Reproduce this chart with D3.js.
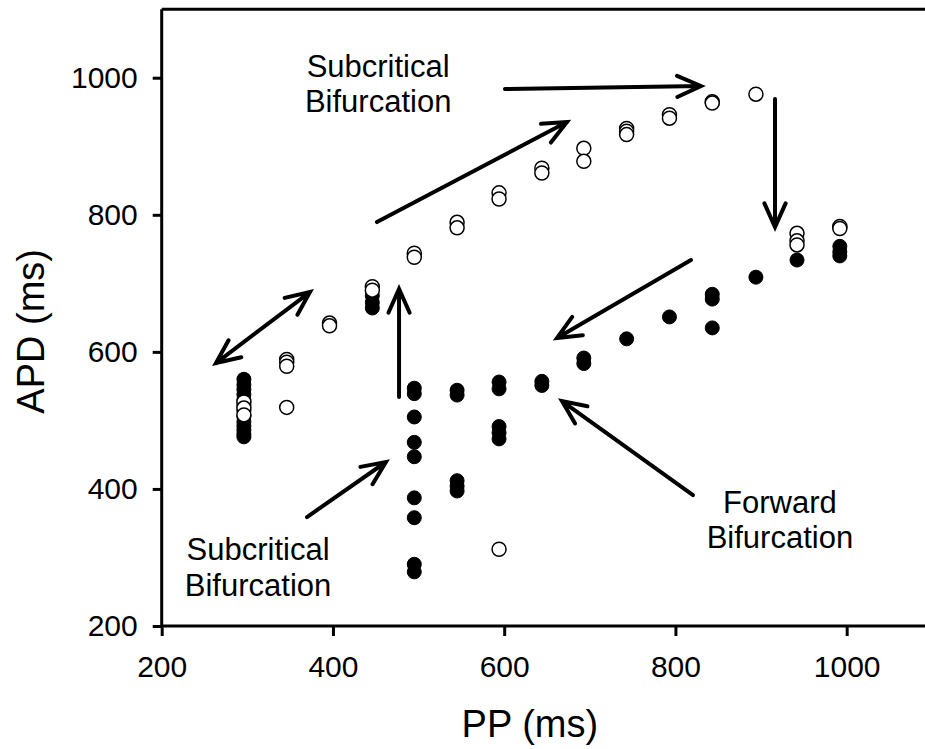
<!DOCTYPE html>
<html>
<head>
<meta charset="utf-8">
<script src="https://cdn.jsdelivr.net/npm/d3@7"></script>
<style>
  html, body { margin: 0; padding: 0; background: #fff; }
  svg { display: block; font-family: "Liberation Sans", Arial, sans-serif; }
</style>
</head>
<body>
<svg id="chart" width="925" height="749"></svg>
<script>
// ---------- data ----------
const xTicks = [200, 400, 600, 800, 1000];
const yTicks = [200, 400, 600, 800, 1000];

// filled circles: [PP, APD]
const filledPP  = [296,296,296,296,296,296,296,296,296,296,296,296,296,
                   446,446,446,
                   495,495,495,495,495,495,495,495,495,
                   545,545,545,545,545,
                   594,594,594,594,594,
                   644,644,
                   693,693,
                   743,
                   793,
                   843,843,843,
                   894,
                   942,
                   992,992,992];
const filledAPD = [560,552,545,538,530,522,514,506,498,492,486,480,476,
                   682,672,664,
                   547,539,505,468,447,387,358,290,279,
                   544,537,412,404,397,
                   556,546,491,482,473,
                   557,551,
                   591,583,
                   619,
                   651,
                   684,677,635,
                   709,
                   734,
                   754,746,740];

// open circles
const openPP  = [296,296,296,
                 346,346,346,346,
                 396,396,
                 446,446,
                 495,495,
                 545,545,
                 594,594,594,
                 644,644,
                 693,693,
                 743,743,743,
                 793,793,
                 843,843,
                 894,
                 942,942,942,
                 992,992];
const openAPD = [527,518,508,
                 589,585,579,519,
                 642,638,
                 695,690,
                 744,738,
                 789,781,
                 832,823,312,
                 868,861,
                 897,878,
                 926,922,917,
                 946,941,
                 965,963,
                 976,
                 773,762,756,
                 783,780];

// annotation arrows in data units: [x1, y1] -> [x2, y2] (tip at x2,y2)
const arrowFrom = [[263.4,583.7],[477.2,534.1],[369.7,359.0],[451.4,789.4],[600.9,983.5],[916.3,968.9],[818.2,734.0],[820.5,391.1]];
const arrowTo   = [[373.2,687.3],[477.2,691.7],[461.9,439.3],[673.3,935.3],[829.8,987.9],[916.3,782.1],[661.7,620.2],[667.5,528.3]];
const doubleHeaded = [true,false,false,false,false,false,false,false];

const labelLines = [["Subcritical","Bifurcation"],["Subcritical","Bifurcation"],["Forward","Bifurcation"]];
const labelX = [452.8, 312.5, 922];
const labelY = [1001, 296.3, 364.9];
const labelY2 = [950, 243.8, 313.8];

// ---------- drawing ----------
const svg = d3.select("#chart");
const x = d3.scaleLinear().domain([200, 1100]).range([161.7, 932.3]);
const y = d3.scaleLinear().domain([200, 1100]).range([626, 9.2]);

// frame (top & right)
svg.append("path")
  .attr("d", `M${x(200)},${y(1100)}H${x(1100)}V${y(200)}`)
  .attr("fill", "none").attr("stroke", "#000").attr("stroke-width", 3);

const tickFont = "30px";
const fmt = d3.format("d");

const gx = svg.append("g").attr("transform", `translate(0,${y(200)})`)
  .call(d3.axisBottom(x).tickValues(xTicks).tickFormat(fmt).tickSize(10).tickPadding(20).tickSizeOuter(0));
const gy = svg.append("g").attr("transform", `translate(${x(200)},0)`)
  .call(d3.axisLeft(y).tickValues(yTicks).tickFormat(fmt).tickSize(9).tickPadding(15).tickSizeOuter(0));
[gx, gy].forEach(g => {
  g.select(".domain").attr("stroke-width", 3).attr("stroke", "#000");
  g.selectAll(".tick line").attr("stroke-width", 3).attr("stroke", "#000");
  g.selectAll(".tick text").attr("font-size", tickFont).attr("fill", "#000")
    .attr("font-family", "'Liberation Sans', Arial, sans-serif");
});
gx.select(".domain").attr("d", `M${x(200)},0H${x(1100)}`);
gy.select(".domain").attr("d", `M0,${y(1100)}V${y(200)}`);

// axis titles
svg.append("text").attr("x", x(630)).attr("y", 737)
  .attr("text-anchor", "middle").attr("font-size", "38px").text("PP (ms)");
svg.append("text").attr("transform", `translate(44,${y(630)}) rotate(-90)`)
  .attr("text-anchor", "middle").attr("font-size", "38px").text("APD (ms)");

// points
const r = 7;
svg.append("g").selectAll("circle").data(d3.range(filledPP.length)).join("circle")
  .attr("cx", i => x(filledPP[i])).attr("cy", i => y(filledAPD[i])).attr("r", r)
  .attr("fill", "#000").attr("stroke", "#000").attr("stroke-width", 1);
svg.append("g").selectAll("circle").data(d3.range(openPP.length)).join("circle")
  .attr("cx", i => x(openPP[i])).attr("cy", i => y(openAPD[i])).attr("r", r)
  .attr("fill", "#fff").attr("stroke", "#000").attr("stroke-width", 1.5);

// arrows
function head(px, py, fx, fy) {
  const ang = Math.atan2(py - fy, px - fx);
  const L = 26, a = 0.42;
  const p1 = [px - L * Math.cos(ang - a), py - L * Math.sin(ang - a)];
  const p2 = [px - L * Math.cos(ang + a), py - L * Math.sin(ang + a)];
  return `M${p1[0]},${p1[1]}L${px},${py}L${p2[0]},${p2[1]}`;
}
const ga = svg.append("g").attr("fill", "none").attr("stroke", "#000")
  .attr("stroke-width", 4).attr("stroke-linecap", "round").attr("stroke-linejoin", "miter");
arrowFrom.forEach((f, i) => {
  const x1 = x(f[0]), y1 = y(f[1]), x2 = x(arrowTo[i][0]), y2 = y(arrowTo[i][1]);
  let d = `M${x1},${y1}L${x2},${y2}` + head(x2, y2, x1, y1);
  if (doubleHeaded[i]) d += head(x1, y1, x2, y2);
  ga.append("path").attr("d", d);
});

// labels
labelLines.forEach((lines, i) => {
  const t = svg.append("text").attr("text-anchor", "middle").attr("font-size", "31px").attr("fill", "#000");
  t.append("tspan").attr("x", x(labelX[i])).attr("y", y(labelY[i])).text(lines[0]);
  t.append("tspan").attr("x", x(labelX[i])).attr("y", y(labelY2[i])).text(lines[1]);
});
</script>
</body>
</html>
